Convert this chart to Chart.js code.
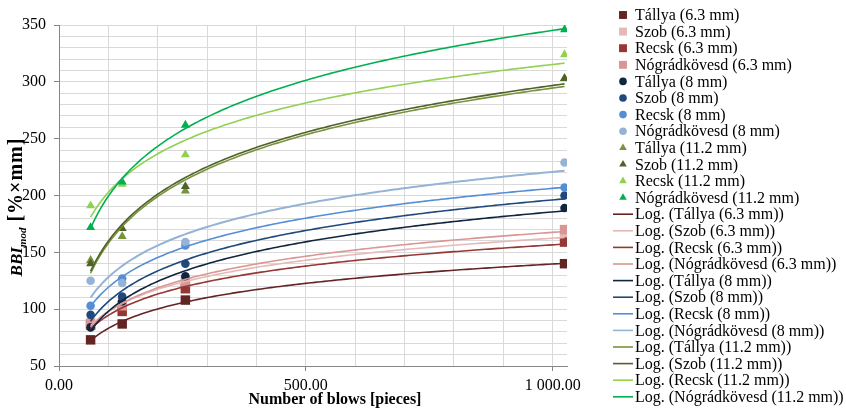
<!DOCTYPE html>
<html>
<head>
<meta charset="utf-8">
<script src="https://cdn.jsdelivr.net/npm/chart.js@4.4.1/dist/chart.umd.min.js"></script>
<style>
  html, body { margin: 0; padding: 0; background: #fff; }
</style>
</head>
<body>
<canvas id="chart" width="846" height="411"></canvas>
<script>
// number of blows at which BBI was measured
const blows = [64, 128, 256, 1024];

// BBI_mod values per quarry and grain size
const tallya63 = [73, 87, 108, 140];
const szob63 = [88, 104, 121, 165];
const recsk63 = [86, 98, 118, 159];
const nograd63 = [87, 103, 124, 170];
const tallya8 = [84, 107, 129, 189];
const szob8 = [95, 111, 140, 200];
const recsk8 = [103, 127, 156, 207];
const nograd8 = [125, 123, 159, 229];
const tallya112 = [143, 164, 204, 303];
const szob112 = [140, 171, 208, 303];
const recsk112 = [191, 210, 236, 324];
const nograd112 = [172, 212, 262, 346];

const seriesNames = [
    'Tállya (6.3 mm)', 'Szob (6.3 mm)', 'Recsk (6.3 mm)', 'Nógrádkövesd (6.3 mm)',
    'Tállya (8 mm)', 'Szob (8 mm)', 'Recsk (8 mm)', 'Nógrádkövesd (8 mm)',
    'Tállya (11.2 mm)', 'Szob (11.2 mm)', 'Recsk (11.2 mm)', 'Nógrádkövesd (11.2 mm)'
];
const seriesValues = [
    tallya63, szob63, recsk63, nograd63,
    tallya8, szob8, recsk8, nograd8,
    tallya112, szob112, recsk112, nograd112
];

// axis ticks
const xTickValues = [0, 500, 1000];
const xTickLabels = ['0.00', '500.00', '1 000.00'];
const yTickValues = [50, 100, 150, 200, 250, 300, 350];

const colors = [
    '#632523', '#E6B9B8', '#953735', '#D99694',
    '#10253F', '#1F497D', '#558ED5', '#95B3D7',
    '#77933C', '#4F6228', '#92D050', '#00B050'
];
const shapes = ['rect', 'rect', 'rect', 'rect', 'circle', 'circle', 'circle', 'circle',
    'triangle', 'triangle', 'triangle', 'triangle'];
const plotRadius = { rect: 6.7, circle: 4.3, triangle: 5.2 };
const legendRadius = { rect: 5.6, circle: 3.8, triangle: 4.4 };

const serif = '"Liberation Serif", "Times New Roman", serif';

// Excel-style logarithmic trendline: y = a*ln(x) + b, least squares
function logFit(xs, ys) {
    const lx = xs.map(Math.log);
    const mx = lx.reduce((a, b) => a + b) / lx.length;
    const my = ys.reduce((a, b) => a + b) / ys.length;
    let sxy = 0, sxx = 0;
    lx.forEach((v, i) => {
        sxy += (v - mx) * (ys[i] - my);
        sxx += (v - mx) * (v - mx);
    });
    const a = sxy / sxx;
    return { a, b: my - a * mx };
}

function trendPoints(ys) {
    const fit = logFit(blows, ys);
    const x0 = blows[0], x1 = blows[blows.length - 1];
    const pts = [];
    const steps = 150;
    for (let i = 0; i <= steps; i++) {
        const x = x0 + (x1 - x0) * i / steps;
        pts.push({ x, y: fit.a * Math.log(x) + fit.b });
    }
    return pts;
}

const markerSets = seriesValues.map((vals, i) => ({
    label: seriesNames[i],
    data: blows.map((b, j) => ({ x: b, y: vals[j] })),
    pointStyle: shapes[i],
    pointRadius: plotRadius[shapes[i]],
    pointBackgroundColor: colors[i],
    pointBorderWidth: 0,
    backgroundColor: colors[i],
    borderColor: colors[i],
    showLine: false,
    order: 100 - i
}));

const trendSets = seriesValues.map((vals, i) => ({
    label: 'Log. (' + seriesNames[i] + ')',
    data: trendPoints(vals),
    showLine: true,
    borderColor: colors[i],
    borderWidth: i === 7 ? 2 : 1.6,
    pointRadius: 0,
    tension: 0,
    fill: false,
    order: 50 - i
}));

const sideLegend = {
    id: 'sideLegend',
    afterDraw(chart) {
        const ctx = chart.ctx;
        ctx.save();
        ctx.font = '16px ' + serif;
        ctx.textBaseline = 'middle';
        chart.data.datasets.forEach((ds, i) => {
            const y = 15 + i * 16.6;
            if (ds.showLine) {
                ctx.strokeStyle = ds.borderColor;
                ctx.lineWidth = 1.6;
                ctx.beginPath();
                ctx.moveTo(613, y);
                ctx.lineTo(633, y);
                ctx.stroke();
            } else {
                ctx.fillStyle = ds.pointBackgroundColor;
                Chart.helpers.drawPoint(ctx, {
                    pointStyle: ds.pointStyle,
                    radius: legendRadius[ds.pointStyle],
                    rotation: 0,
                    borderWidth: 0
                }, 623, y);
            }
            ctx.fillStyle = '#000';
            ctx.fillText(ds.label, 635, y + 1);
        });
        ctx.restore();
    }
};

const axisTitles = {
    id: 'axisTitles',
    afterDraw(chart) {
        const ctx = chart.ctx;
        ctx.save();
        ctx.fillStyle = '#000';
        // x axis title
        ctx.font = 'bold 16px ' + serif;
        ctx.textAlign = 'center';
        ctx.textBaseline = 'middle';
        ctx.fillText('Number of blows [pieces]', 335, 400);

        // y axis title, rotated, with subscript
        const parts = [
            { t: 'BBI', f: 'italic bold 17px ' + serif, dy: 0, ls: 0 },
            { t: 'mod', f: 'italic bold 11px ' + serif, dy: 4, ls: 0 },
            { t: ' [%×mm]', f: 'bold 20px ' + serif, dy: 0, ls: 1 }
        ];
        ctx.textAlign = 'left';
        ctx.textBaseline = 'alphabetic';
        let total = 0;
        parts.forEach(p => {
            ctx.font = p.f;
            ctx.letterSpacing = p.ls + 'px';
            p.w = ctx.measureText(p.t).width;
            total += p.w;
        });
        ctx.translate(21.5, 207);
        ctx.rotate(-Math.PI / 2);
        let x = -total / 2;
        parts.forEach(p => {
            ctx.font = p.f;
            ctx.letterSpacing = p.ls + 'px';
            ctx.fillText(p.t, x, p.dy);
            x += p.w;
        });
        ctx.restore();
    }
};

new Chart(document.getElementById('chart'), {
    type: 'scatter',
    data: { datasets: [...markerSets, ...trendSets] },
    options: {
        responsive: false,
        animation: false,
        devicePixelRatio: 1,
        layout: { padding: { top: 25, right: 279, bottom: 0, left: 0 } },
        plugins: {
            legend: { display: false },
            tooltip: { enabled: false }
        },
        scales: {
            x: {
                type: 'linear',
                min: 0,
                max: 1029,
                afterBuildTicks: (s) => {
                    const t = [];
                    for (let v = 0; v <= 1000; v += 100) t.push({ value: v });
                    s.ticks = t;
                },
                afterFit: (s) => { s.height = 45; },
                ticks: {
                    autoSkip: false,
                    maxRotation: 0,
                    padding: 5,
                    color: '#000',
                    font: { family: serif, size: 16 },
                    callback: (v) => {
                        const i = xTickValues.indexOf(v);
                        return i >= 0 ? xTickLabels[i] : '';
                    }
                },
                grid: {
                    color: '#D9D9D9',
                    tickLength: 5,
                    tickColor: (c) => (c.tick && xTickValues.includes(c.tick.value)) ? '#868686' : 'rgba(0,0,0,0)'
                },
                border: { color: '#868686', width: 1 }
            },
            y: {
                min: 50,
                max: 350,
                afterBuildTicks: (s) => {
                    const t = [];
                    for (let v = 50; v <= 350; v += 10) t.push({ value: v });
                    s.ticks = t;
                },
                afterFit: (s) => { s.width = 59; },
                ticks: {
                    autoSkip: false,
                    padding: 8,
                    color: '#000',
                    font: { family: serif, size: 16 },
                    callback: (v) => yTickValues.includes(v) ? String(v) : ''
                },
                grid: {
                    color: '#D9D9D9',
                    tickLength: 5,
                    tickColor: (c) => (c.tick && yTickValues.includes(c.tick.value)) ? '#868686' : 'rgba(0,0,0,0)'
                },
                border: { color: '#868686', width: 1 }
            }
        }
    },
    plugins: [sideLegend, axisTitles]
});
</script>
</body>
</html>
